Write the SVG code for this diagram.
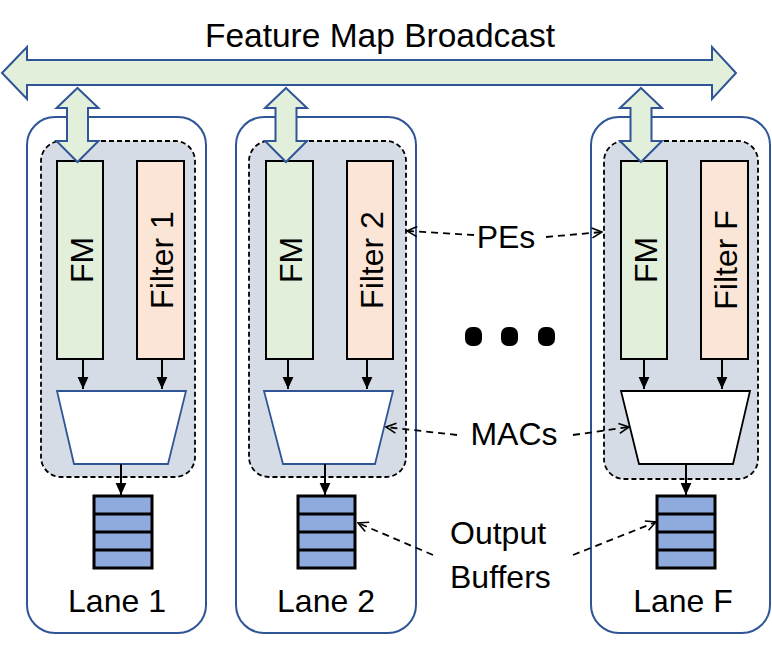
<svg xmlns="http://www.w3.org/2000/svg" width="772" height="645" viewBox="0 0 772 645">
<style>
text{font-family:"Liberation Sans",Arial,sans-serif;fill:#000;}
.t{font-size:32px;}
.lane{fill:#fff;stroke:#2F5597;stroke-width:2;}
.pe{fill:#D6DCE5;stroke:#000;stroke-width:1.8;stroke-dasharray:5 3;}
.fm{fill:#E2EFDA;stroke:#000;stroke-width:2;}
.flt{fill:#FBE5D6;stroke:#000;stroke-width:2;}
.mac{fill:#fff;stroke:#2F5597;stroke-width:1.8;}
.macb{fill:#fff;stroke:#000;stroke-width:1.8;}
.buf{fill:#8FAADC;stroke:#000;stroke-width:3;}
.bl{stroke:#000;stroke-width:3;}
.blk{fill:#E2EFDA;stroke:#2F5597;stroke-width:2;stroke-linejoin:miter;}
.sa{stroke:#000;stroke-width:2;fill:none;marker-end:url(#ah);}
.da{stroke:#000;stroke-width:1.8;fill:none;stroke-dasharray:7 5;marker-end:url(#oh);}
</style>
<defs>
<marker id="ah" viewBox="0 0 10 10" refX="10" refY="5" markerWidth="12" markerHeight="12" markerUnits="userSpaceOnUse" orient="auto">
<path d="M0,0.5 L10,5 L0,9.5 Z" fill="#000"/>
</marker>
<marker id="oh" viewBox="0 0 12 12" refX="11" refY="6" markerWidth="12" markerHeight="12" markerUnits="userSpaceOnUse" orient="auto">
<path d="M1,1 L11,6 L1,11" fill="none" stroke="#000" stroke-width="1.6"/>
</marker>
</defs>

<g id="broadcast">
<polygon class="blk" points="2,73 27,47 27,60 712,60 712,47 736,73 712,99 712,85 27,85 27,99"/>
<text x="380" y="47" text-anchor="middle" font-size="33.5">Feature Map Broadcast</text>
</g>

<g id="lane1">
<rect class="lane" x="27" y="117" width="179" height="516" rx="28"/>
<rect class="pe" x="41" y="141" width="154" height="336" rx="20"/>
<rect class="fm" x="57" y="161" width="46" height="198"/>
<rect class="flt" x="137" y="161" width="47" height="198"/>
<text class="t" transform="translate(81,260) rotate(-90)" y="11.5" text-anchor="middle">FM</text>
<text class="t" transform="translate(161,260) rotate(-90)" y="11.5" text-anchor="middle">Filter 1</text>
<polygon class="mac" points="57,391 186,391 168,464 74,464"/>
<rect class="buf" x="94" y="496" width="58" height="72"/>
<path class="bl" d="M94,514H152M94,532H152M94,550H152"/>
<text class="t" x="117" y="612" text-anchor="middle">Lane 1</text>
<polygon class="blk" points="77.5,88 98.5,108 88,108 88,141 98.5,141 77.5,162 56.5,141 67,141 67,108 56.5,108"/>
</g>

<g id="lane2">
<rect class="lane" x="236" y="117" width="180" height="516" rx="28"/>
<rect class="pe" x="249" y="141" width="157" height="336" rx="20"/>
<rect class="fm" x="266" y="161" width="47" height="198"/>
<rect class="flt" x="347" y="161" width="46" height="198"/>
<text class="t" transform="translate(290,260) rotate(-90)" y="11.5" text-anchor="middle">FM</text>
<text class="t" transform="translate(371,260) rotate(-90)" y="11.5" text-anchor="middle">Filter 2</text>
<polygon class="mac" points="264,391 393,391 375,464 283,464"/>
<rect class="buf" x="298" y="496" width="57" height="72"/>
<path class="bl" d="M298,514H355M298,532H355M298,550H355"/>
<text class="t" x="326" y="612" text-anchor="middle">Lane 2</text>
<polygon class="blk" points="286,88 307,108 296.5,108 296.5,141 307,141 286,162 265,141 275.5,141 275.5,108 265,108"/>
</g>

<g id="laneF">
<rect class="lane" x="591" y="117" width="179" height="516" rx="28"/>
<rect class="pe" x="604" y="141" width="154" height="338" rx="20"/>
<rect class="fm" x="621" y="161" width="46" height="198"/>
<rect class="flt" x="701" y="161" width="47" height="198"/>
<text class="t" transform="translate(645,260) rotate(-90)" y="11.5" text-anchor="middle">FM</text>
<text class="t" transform="translate(725,260) rotate(-90)" y="11.5" text-anchor="middle">Filter F</text>
<polygon class="macb" points="621,391 750,391 733,464 639,464"/>
<rect class="buf" x="657" y="496" width="58" height="72"/>
<path class="bl" d="M657,514H715M657,532H715M657,550H715"/>
<text class="t" x="683" y="612" text-anchor="middle">Lane F</text>
<polygon class="blk" points="641,88 662,108 651.5,108 651.5,141 662,141 641,162 620,141 630.5,141 630.5,108 620,108"/>
</g>

<g id="ellipsis">
<rect x="465" y="327" width="17" height="19" rx="7" fill="#000"/>
<rect x="501" y="327" width="17" height="19" rx="7" fill="#000"/>
<rect x="538" y="327" width="17" height="19" rx="7" fill="#000"/>
</g>

<g id="labels">
<text class="t" x="506" y="248" text-anchor="middle">PEs</text>
<text class="t" x="514" y="445" text-anchor="middle">MACs</text>
<text class="t" x="450" y="544">Output</text>
<text class="t" x="450" y="588">Buffers</text>
</g>

<g id="connectors">
<line class="sa" x1="83" y1="359" x2="83" y2="389"/>
<line class="sa" x1="162" y1="359" x2="162" y2="389"/>
<line class="sa" x1="288" y1="359" x2="288" y2="389"/>
<line class="sa" x1="367" y1="359" x2="367" y2="389"/>
<line class="sa" x1="644" y1="359" x2="644" y2="389"/>
<line class="sa" x1="722" y1="359" x2="722" y2="389"/>
<line class="sa" x1="121" y1="464" x2="121" y2="495"/>
<line class="sa" x1="325" y1="464" x2="325" y2="495"/>
<line class="sa" x1="686" y1="464" x2="686" y2="495"/>
<line class="da" x1="474" y1="235" x2="407" y2="231"/>
<line class="da" x1="546" y1="237" x2="602" y2="232"/>
<line class="da" x1="457" y1="435" x2="386" y2="427"/>
<line class="da" x1="573" y1="435" x2="629" y2="427"/>
<line class="da" x1="433" y1="555" x2="358" y2="523"/>
<line class="da" x1="573" y1="555" x2="656" y2="522"/>
</g>
</svg>
